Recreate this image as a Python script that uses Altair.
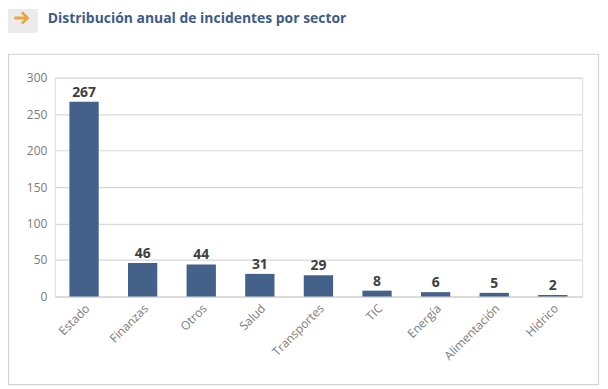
import altair as alt
import pandas as pd

sectors = ["Estado", "Finanzas", "Otros", "Salud", "Transportes", "TIC", "Energía", "Alimentación", "Hídrico"]
incidents = [267, 46, 44, 31, 29, 8, 6, 5, 2]
title_text = "Distribución anual de incidentes por sector"
y_ticks = [0, 50, 100, 150, 200, 250, 300]

FONT = "Open Sans"
df = pd.DataFrame({"sector": sectors, "n": incidents})

x_enc = alt.X("sector:N", sort=sectors, title=None,
              scale=alt.Scale(paddingInner=0.5, paddingOuter=0.25),
              axis=alt.Axis(labelAngle=-45, labelAlign="right", labelBaseline="top",
                            labelPadding=6, labelFontSize=12, labelColor="#7a7a7a",
                            labelFont=FONT, ticks=False, domainColor="#d9d9d9",
                            domainWidth=1.5))
y_enc = alt.Y("n:Q", title=None,
              scale=alt.Scale(domain=[0, 300], nice=False),
              axis=alt.Axis(values=y_ticks, labelOverlap=False, labelFontSize=12,
                            labelColor="#7a7a7a", labelFont=FONT, labelPadding=8,
                            ticks=False, domain=False,
                            gridColor="#d9d9d9", gridWidth=1.2))

box = alt.Chart(pd.DataFrame({"a": [0]})).mark_rect(
    fillOpacity=0, stroke="#d4d4d4", strokeWidth=1.2
).encode(x=alt.value(-46.5), x2=alt.value(546.5), y=alt.value(-23.5), y2=alt.value(308.5))

hdr_box = alt.Chart(pd.DataFrame({"a": [0]})).mark_rect(
    fill="#ebebeb"
).encode(x=alt.value(-47), x2=alt.value(-17), y=alt.value(-69), y2=alt.value(-45))

ARROW_PATH = ("M-0.85,-0.17 L0.28,-0.17 L-0.12,-0.52 L0.1,-0.74 L0.85,0 "
              "L0.1,0.74 L-0.12,0.52 L0.28,0.17 L-0.85,0.17 Z")
arrow = alt.Chart(pd.DataFrame({"a": [0]})).mark_point(
    shape=ARROW_PATH, filled=True, color="#e6a83e", opacity=1, size=320
).encode(x=alt.value(-33), y=alt.value(-60))

title = alt.Chart(pd.DataFrame({"t": [title_text]})).mark_text(
    color="#3d5c88", fontSize=14, fontWeight="bold", align="left", baseline="middle", font=FONT
).encode(x=alt.value(-7), y=alt.value(-59), text="t:N")

bars = alt.Chart(df).mark_bar(color="#44618a").encode(x=x_enc, y=y_enc)
labels = alt.Chart(df).mark_text(
    dy=-2, fontSize=14, fontWeight="bold", color="#404040", font=FONT, baseline="bottom"
).encode(x=x_enc, y=y_enc, text="n:Q")

chart = alt.layer(box, hdr_box, arrow, title, bars, labels).properties(
    width=530, height=220,
    autosize=alt.AutoSizeParams(type="none"),
    padding={"left": 47, "top": 69, "right": 18, "bottom": 92},
).configure_view(stroke=None).configure(background="white")

chart.save("out.html", embed_options={"renderer": "svg", "actions": False})
